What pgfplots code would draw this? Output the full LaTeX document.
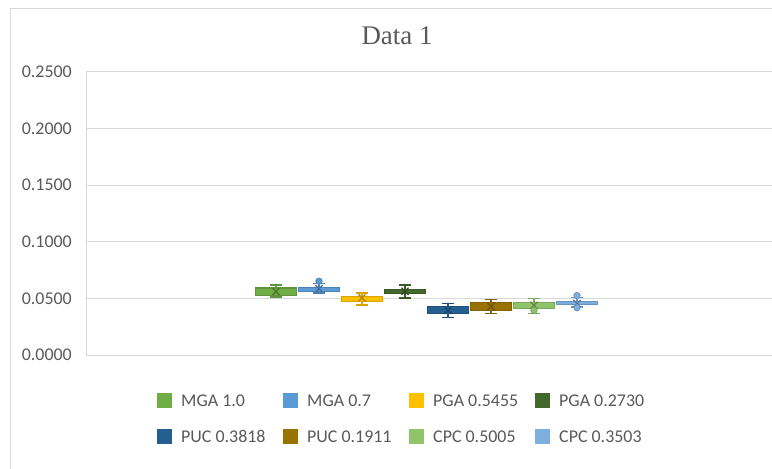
\documentclass[border=0pt]{standalone}
\usepackage{pgfplots}
\pgfplotsset{compat=1.18}
\usepackage{fontspec}
\setmainfont{Carlito}
\newfontfamily\titlefont{Liberation Serif}
\definecolor{c1}{HTML}{70AD47}
\definecolor{c2}{HTML}{5B9BD5}
\definecolor{c3}{HTML}{FFC000}
\definecolor{c4}{HTML}{43682B}
\definecolor{c5}{HTML}{255E91}
\definecolor{c6}{HTML}{997300}
\definecolor{c7}{HTML}{8FC46A}
\definecolor{c8}{HTML}{7CAFDD}
\definecolor{gridgray}{HTML}{D9D9D9}
\definecolor{txtgray}{HTML}{595959}
\begin{document}
\begin{tikzpicture}
\useasboundingbox (0,0) rectangle (772bp,469bp);
\fill[white] (0,0) rectangle (772bp,469bp);
\draw[gridgray, line width=1bp] (10bp,0) -- (10bp,460bp) -- (772bp,460bp);
\node[font=\titlefont\fontsize{27}{32}\selectfont, text=txtgray, anchor=base] at (397bp,424bp) {Data 1};
\begin{axis}[
  at={(86bp,114bp)}, anchor=south west,
  scale only axis, width=686bp, height=283bp,
  xmin=0, xmax=16, ymin=0, ymax=0.25,
  xtick=\empty,
  ytick={0,0.05,0.1,0.15,0.2,0.25},
  /pgf/number format/assume math mode=true,
  yticklabel style={/pgf/number format/.cd, fixed, fixed zerofill, precision=4, /tikz/.cd,
    font=\fontsize{18}{20}\selectfont, text=txtgray, inner sep=0pt, xshift=-14bp},
  scaled y ticks=false,
  major tick length=0pt,
  ymajorgrids, grid style={gridgray, line width=1bp},
  axis lines=left, axis line style={-, draw=gridgray, line width=1bp},
  clip=false,
  unbounded coords=jump,
  bx/.style={forget plot, fill=#1, draw=#1!85!black, line width=1.2bp},
  wh/.style={forget plot, draw=#1!85!black, line width=1.4bp},
  mn/.style={forget plot, only marks, mark=x, mark size=5bp, mark options={draw=#1!70!black, line width=1.3bp}},
  ol/.style={forget plot, only marks, mark=*, mark size=3.2bp, mark options={fill=#1, draw=#1!85!black, line width=0.8bp}},
  legend columns=4,
  legend style={at={(axis description cs:0.1035,-0.134)}, anchor=north west,
    draw=none, fill=none, inner sep=0pt, row sep=21bp,
    font=\fontsize{18}{20}\selectfont, text=txtgray,
    nodes={inner sep=0pt},
    /tikz/every odd column/.style={column sep=9bp},
    /tikz/every even column/.style={column sep=0bp}},
  legend cell align=left,
  legend image code/.code={\fill[#1, draw=none] (0bp,-7bp) rectangle (15bp,8bp);},
]
% MGA 1.0
\addplot[wh=c1] coordinates {(4.292,0.0617) (4.572,0.0617) (4.432,nan) (4.432,0.0617) (4.432,0.0514) (4.432,nan) (4.292,0.0514) (4.572,0.0514)};
\addplot[bx=c1] coordinates {(3.954,0.0529) (4.910,0.0529) (4.910,0.0591) (3.954,0.0591)} -- cycle;
\addplot[mn=c1] coordinates {(4.432,0.0560)};
% MGA 0.7
\addplot[wh=c2] coordinates {(5.294,0.0630) (5.574,0.0630) (5.434,nan) (5.434,0.0630) (5.434,0.0547) (5.434,nan) (5.294,0.0547) (5.574,0.0547)};
\addplot[bx=c2] coordinates {(4.956,0.0558) (5.912,0.0558) (5.912,0.0594) (4.956,0.0594)} -- cycle;
\addplot[mn=c2] coordinates {(5.434,0.0585)};
\addplot[ol=c2] coordinates {(5.434,0.0652)};
% PGA 0.5455
\addplot[wh=c3] coordinates {(6.297,0.0547) (6.577,0.0547) (6.437,nan) (6.437,0.0547) (6.437,0.0441) (6.437,nan) (6.297,0.0441) (6.577,0.0441)};
\addplot[bx=c3] coordinates {(5.959,0.0470) (6.915,0.0470) (6.915,0.0520) (5.959,0.0520)} -- cycle;
\addplot[mn=c3] coordinates {(6.437,0.0505)};
% PGA 0.2730
\addplot[wh=c4] coordinates {(7.300,0.0617) (7.580,0.0617) (7.440,nan) (7.440,0.0617) (7.440,0.0505) (7.440,nan) (7.300,0.0505) (7.580,0.0505)};
\addplot[bx=c4] coordinates {(6.962,0.0544) (7.918,0.0544) (7.918,0.0582) (6.962,0.0582)} -- cycle;
\addplot[mn=c4] coordinates {(7.440,0.0563)};
% PUC 0.3818
\addplot[wh=c5] coordinates {(8.303,0.0456) (8.583,0.0456) (8.443,nan) (8.443,0.0456) (8.443,0.0333) (8.443,nan) (8.303,0.0333) (8.583,0.0333)};
\addplot[bx=c5] coordinates {(7.965,0.0368) (8.921,0.0368) (8.921,0.0426) (7.965,0.0426)} -- cycle;
\addplot[mn=c5] coordinates {(8.443,0.0395)};
% PUC 0.1911
\addplot[wh=c6] coordinates {(9.306,0.0491) (9.586,0.0491) (9.446,nan) (9.446,0.0491) (9.446,0.0368) (9.446,nan) (9.306,0.0368) (9.586,0.0368)};
\addplot[bx=c6] coordinates {(8.968,0.0391) (9.924,0.0391) (9.924,0.0461) (8.968,0.0461)} -- cycle;
\addplot[mn=c6] coordinates {(9.446,0.0428)};
% CPC 0.5005
\addplot[wh=c7] coordinates {(10.309,0.0500) (10.589,0.0500) (10.449,nan) (10.449,0.0500) (10.449,0.0368) (10.449,nan) (10.309,0.0368) (10.589,0.0368)};
\addplot[bx=c7] coordinates {(9.971,0.0412) (10.927,0.0412) (10.927,0.0465) (9.971,0.0465)} -- cycle;
\addplot[mn=c7] coordinates {(10.449,0.0440)};
\addplot[ol=c7] coordinates {(10.449,0.0395)};
% CPC 0.3503
\addplot[wh=c8] coordinates {(11.312,0.0510) (11.592,0.0510) (11.452,nan) (11.452,0.0510) (11.452,0.0425) (11.452,nan) (11.312,0.0425) (11.592,0.0425)};
\addplot[bx=c8] coordinates {(10.974,0.0447) (11.930,0.0447) (11.930,0.0476) (10.974,0.0476)} -- cycle;
\addplot[mn=c8] coordinates {(11.452,0.0455)};
\addplot[ol=c8] coordinates {(11.452,0.0525) (11.452,0.0418)};
\addlegendimage{fill=c1}\addlegendentry{\makebox[102bp][l]{MGA 1.0}}
\addlegendimage{fill=c2}\addlegendentry{\makebox[102bp][l]{MGA 0.7}}
\addlegendimage{fill=c3}\addlegendentry{\makebox[102bp][l]{PGA 0.5455}}
\addlegendimage{fill=c4}\addlegendentry{\makebox[102bp][l]{PGA 0.2730}}
\addlegendimage{fill=c5}\addlegendentry{\makebox[102bp][l]{PUC 0.3818}}
\addlegendimage{fill=c6}\addlegendentry{\makebox[102bp][l]{PUC 0.1911}}
\addlegendimage{fill=c7}\addlegendentry{\makebox[102bp][l]{CPC 0.5005}}
\addlegendimage{fill=c8}\addlegendentry{\makebox[102bp][l]{CPC 0.3503}}
\end{axis}
\end{tikzpicture}
\end{document}
